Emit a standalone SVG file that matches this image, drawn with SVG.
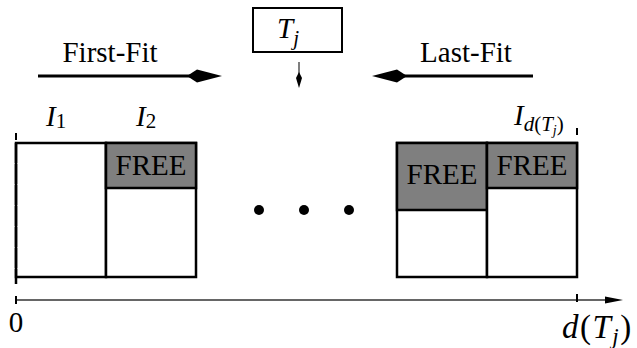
<svg xmlns="http://www.w3.org/2000/svg" width="637" height="348" viewBox="0 0 637 348">
<style>
text{font-family:"Liberation Serif","Times New Roman",serif;fill:#000;}
.lbl{font-size:29px;}
.it{font-style:italic;}
.sub{font-size:21px;}
.box{fill:#fff;stroke:#000;stroke-width:2.5;}
.free{fill:#7f7f7f;stroke:#000;stroke-width:2.5;}
.ln{stroke:#000;stroke-width:3;fill:none;}
.head{fill:#000;stroke:none;}
</style>
<rect width="637" height="348" fill="#fff"/>
<g id="task">
<rect x="253" y="8" width="89" height="44" fill="#fff" stroke="#000" stroke-width="2"/>
<text x="277" y="38" class="lbl it">T<tspan class="sub" dy="7">j</tspan></text>
</g>
<g id="connectors">
<line x1="38" y1="76" x2="190" y2="76" class="ln"/>
<path d="M187,76 L197,69.5 L222,76 L197,82.5 Z" class="head"/>
<line x1="404" y1="76" x2="533" y2="76" class="ln"/>
<path d="M407,76 L397,69.5 L372,76 L397,82.5 Z" class="head"/>
<line x1="299" y1="62" x2="299" y2="76" stroke="#555" stroke-width="1.5"/>
<path d="M299,72 L302,78 L299,88 L296,78 Z" class="head"/>
<line x1="16" y1="300" x2="612" y2="300" stroke="#666" stroke-width="2"/>
<path d="M605,296.5 L623,300 L605,303.5 Z" class="head"/>
<line x1="16" y1="296" x2="16" y2="304" stroke="#000" stroke-width="2"/>
<line x1="577" y1="294" x2="577" y2="302" stroke="#000" stroke-width="2"/>
</g>
<g id="label-first-fit"><text x="110" y="62" class="lbl" text-anchor="middle">First-Fit</text></g>
<g id="label-last-fit"><text x="466" y="62" class="lbl" text-anchor="middle">Last-Fit</text></g>
<g id="I1">
<text x="46" y="126" class="lbl it">I<tspan class="sub" font-style="normal" dy="2">1</tspan></text>
<rect x="16" y="143" width="90" height="134" class="box"/>
<line x1="16" y1="133" x2="16" y2="140" stroke="#000" stroke-width="2"/>
<line x1="16" y1="143" x2="16" y2="284" stroke="#000" stroke-width="2.5" stroke-dasharray="20 1"/>
</g>
<g id="I2">
<text x="136" y="126" class="lbl it">I<tspan class="sub" font-style="normal" dy="2">2</tspan></text>
<rect x="106" y="143" width="90" height="134" class="box"/>
<rect x="106" y="143" width="90" height="45" class="free"/>
<text x="151" y="175" class="lbl" text-anchor="middle">FREE</text>
</g>
<g id="dots">
<circle cx="259" cy="210" r="5"/>
<circle cx="304" cy="210" r="5"/>
<circle cx="349" cy="210" r="5"/>
</g>
<g id="Ilast1">
<rect x="397" y="143" width="90" height="134" class="box"/>
<rect x="397" y="143" width="90" height="67" class="free"/>
<text x="442" y="184" class="lbl" text-anchor="middle">FREE</text>
</g>
<g id="Ilast">
<text x="514" y="125" class="lbl it">I<tspan class="sub" dy="6">d</tspan><tspan class="sub" font-style="normal">(</tspan><tspan class="sub">T</tspan><tspan font-size="14" dy="4">j</tspan><tspan class="sub" font-style="normal" dy="-4">)</tspan></text>
<line x1="577" y1="128" x2="577" y2="135" stroke="#000" stroke-width="2"/>
<rect x="487" y="143" width="90" height="134" class="box"/>
<rect x="487" y="143" width="90" height="45" class="free"/>
<text x="532" y="175" class="lbl" text-anchor="middle">FREE</text>
</g>
<g id="axis-labels">
<text x="16" y="332" class="lbl" text-anchor="middle">0</text>
<text x="562" y="338" font-size="33" letter-spacing="1.5"><tspan class="it">d</tspan>(<tspan class="it">T</tspan><tspan font-size="23" class="it" dy="6">j</tspan><tspan dy="-6">)</tspan></text>
</g>
</svg>
